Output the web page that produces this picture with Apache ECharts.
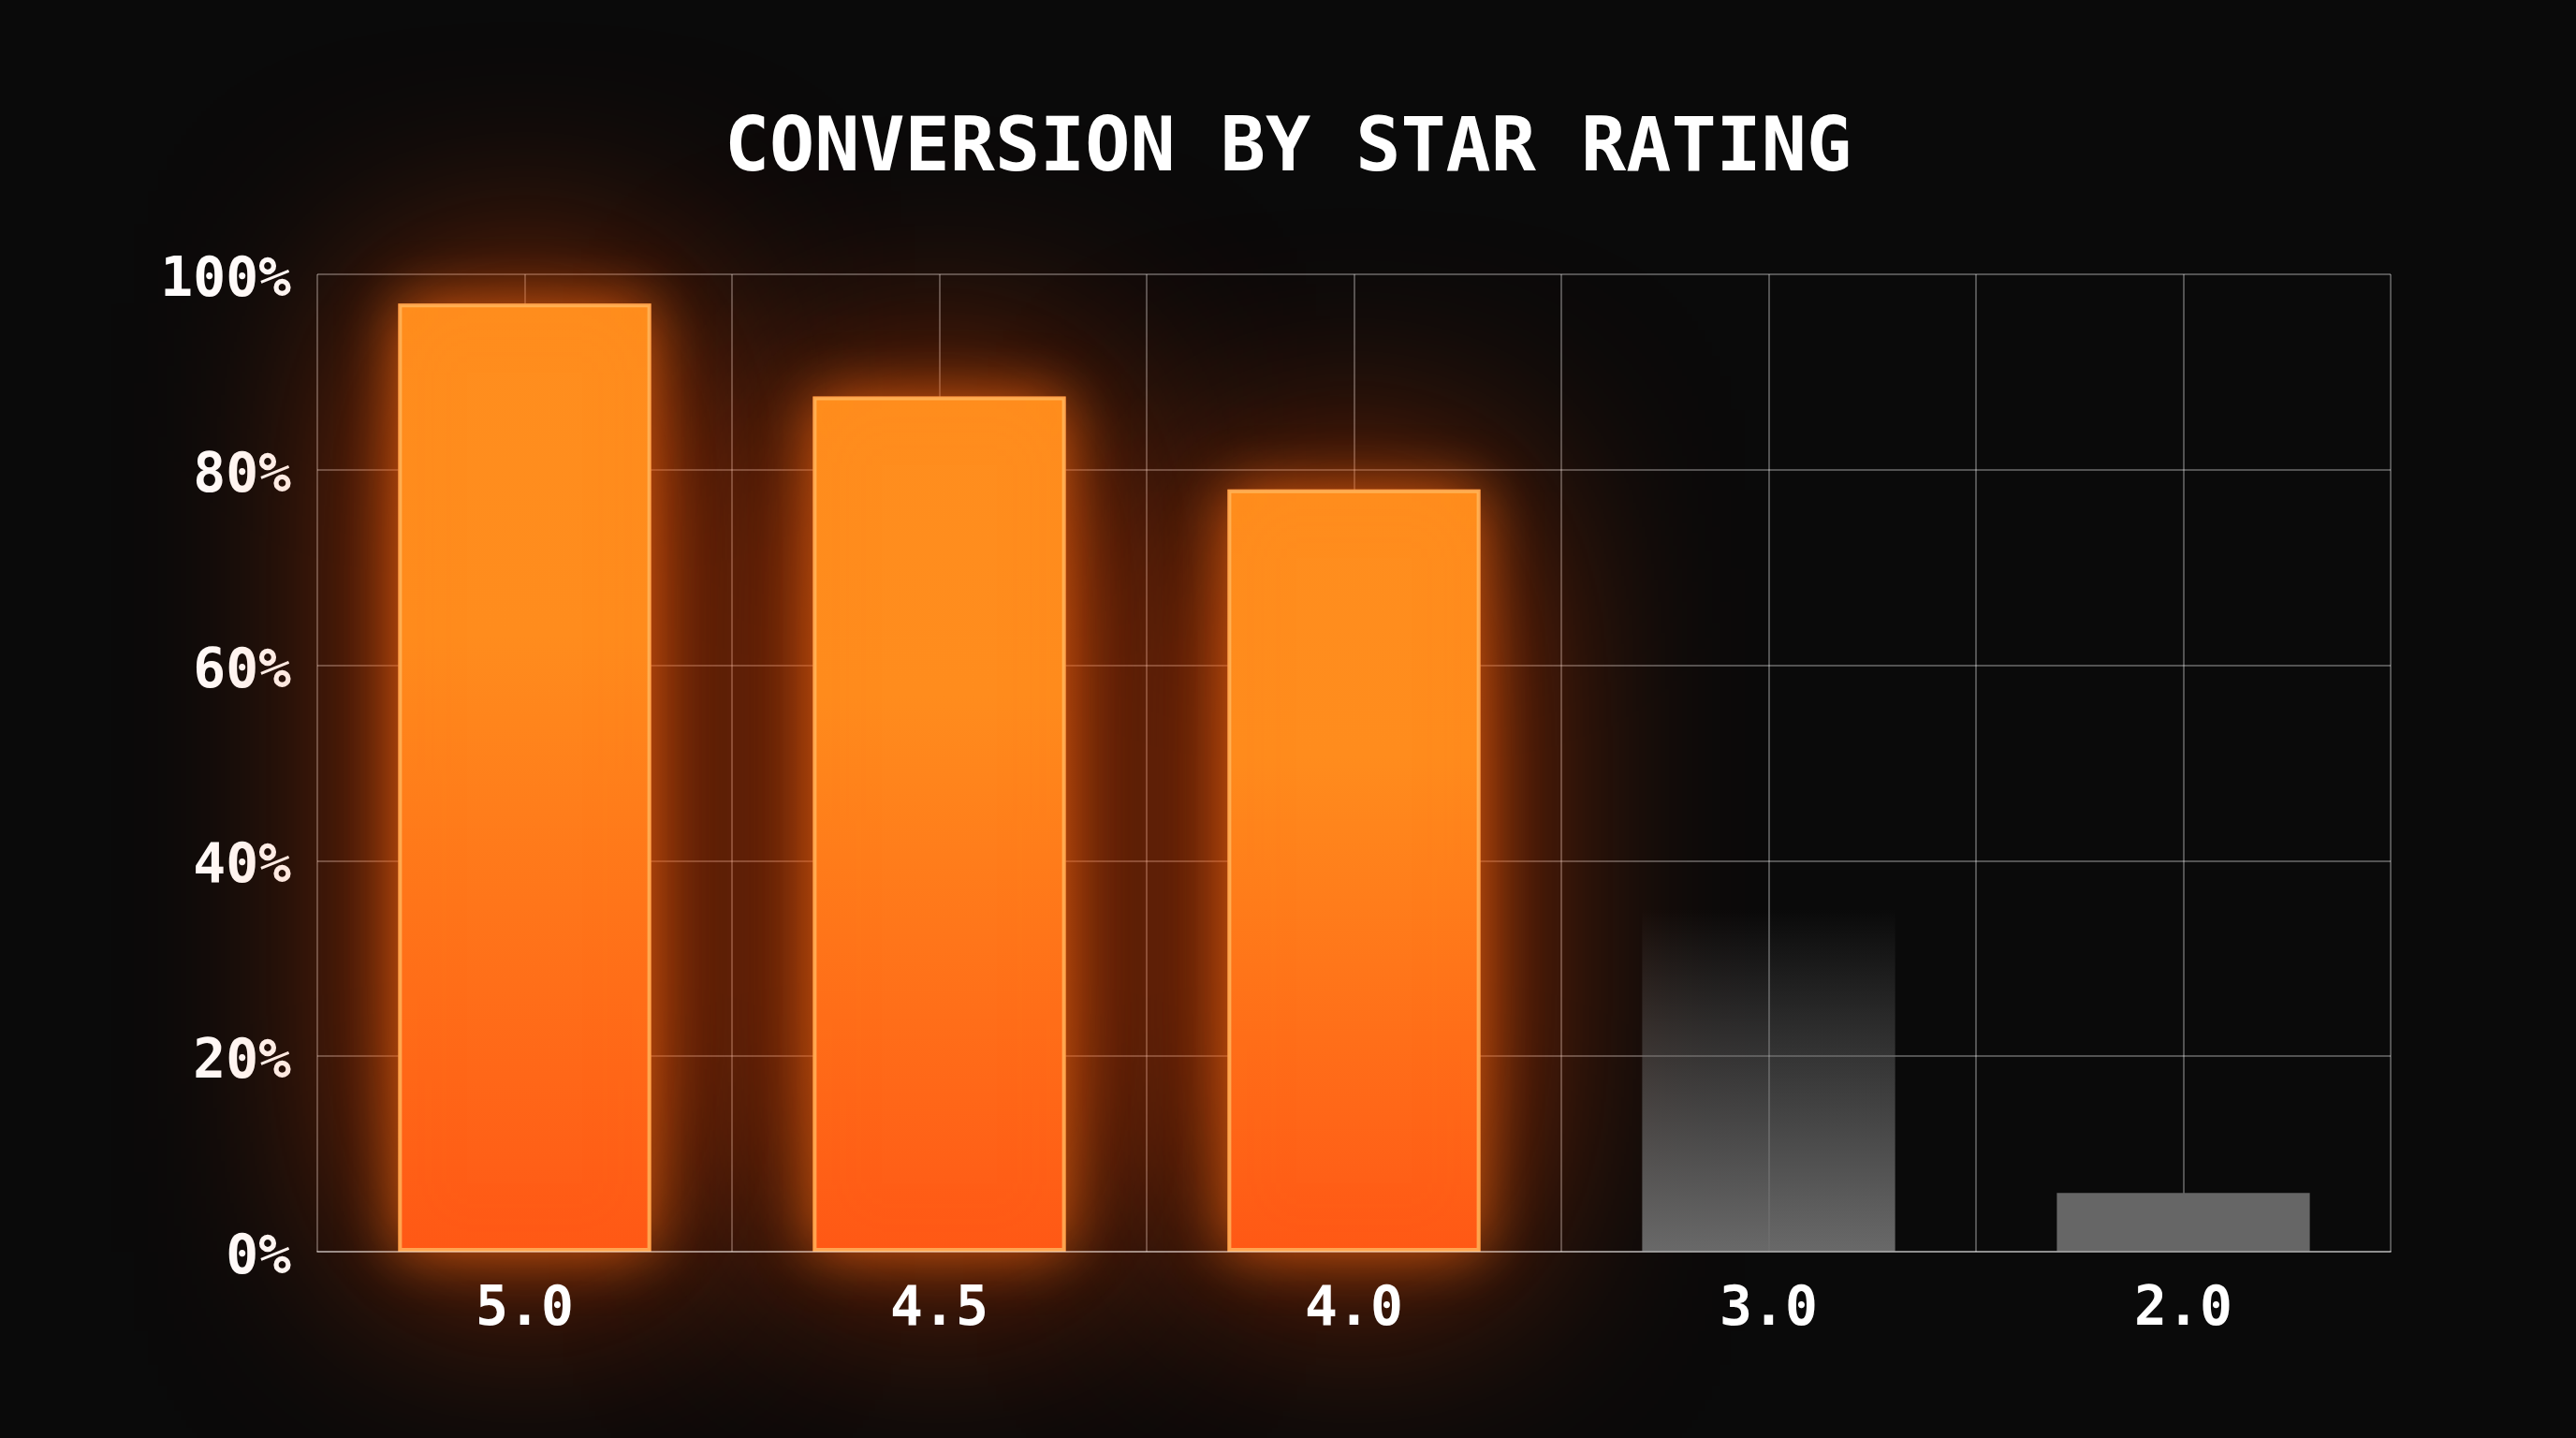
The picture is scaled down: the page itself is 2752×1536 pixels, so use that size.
<!DOCTYPE html>
<html>
<head>
<meta charset="utf-8">
<script src="https://cdn.jsdelivr.net/npm/echarts@6/dist/echarts.min.js"></script>
<style>
html,body{margin:0;padding:0;background:#0a0a0a;}
#c{width:2752px;height:1536px;}
</style>
</head>
<body>
<div id="c"></div>
<script>
const title = 'CONVERSION BY STAR RATING';
const categories = ['5.0', '4.5', '4.0', '3.0', '2.0'];
const conversion = [97, 87.5, 78, 35, 6];
const highlighted = [true, true, true, false, false];

const FONT = '"DejaVu Sans Mono", "Liberation Mono", monospace';

function orangeItem(v) {
  return {
    value: v,
    itemStyle: {
      color: {
        type: 'linear', x: 0, y: 0, x2: 0, y2: 1,
        colorStops: [
          { offset: 0, color: '#ff8e1e' },
          { offset: 0.35, color: '#ff8c1d' },
          { offset: 1, color: '#ff5816' }
        ]
      },
      borderColor: 'rgba(255,190,100,0.75)',
      borderWidth: 4,
      shadowBlur: 60,
      shadowColor: 'rgba(255,110,20,0.75)'
    }
  };
}
function glowItem(v, i) {
  if (!highlighted[i]) return { value: v, itemStyle: { color: 'rgba(0,0,0,0)' } };
  return {
    value: v,
    itemStyle: {
      color: 'rgba(255,90,10,0.9)',
      shadowBlur: 280,
      shadowColor: 'rgba(255,75,0,0.85)'
    }
  };
}
function grayItem(v, idx) {
  if (idx === 3) {
    return {
      value: v,
      itemStyle: {
        color: {
          type: 'linear', x: 0, y: 0, x2: 0, y2: 1,
          colorStops: [
            { offset: 0, color: 'rgba(110,110,110,0)' },
            { offset: 0.35, color: 'rgba(110,110,110,0.35)' },
            { offset: 1, color: 'rgba(110,110,110,0.95)' }
          ]
        }
      }
    };
  }
  return { value: v, itemStyle: { color: '#666666' } };
}

const barData = conversion.map((v, i) => highlighted[i] ? orangeItem(v) : grayItem(v, i));
const glowData = conversion.map((v, i) => glowItem(v, i));

const chart = echarts.init(document.getElementById('c'), null, { renderer: 'canvas' });
chart.setOption({
  backgroundColor: '#0a0a0a',
  animation: false,
  title: {
    text: title,
    left: 'center',
    top: 116,
    textStyle: { color: '#ffffff', fontFamily: FONT, fontWeight: 'bold', fontSize: 80 }
  },
  grid: { left: 339, right: 198, top: 293, bottom: 199, containLabel: false },
  xAxis: [
    {
      type: 'category',
      data: categories,
      axisLine: { show: true, lineStyle: { color: 'rgba(255,255,255,0.35)', width: 2 } },
      axisTick: { show: false },
      splitLine: { show: false },
      axisLabel: { color: '#ffffff', fontFamily: FONT, fontWeight: 'bold', fontSize: 58, margin: 34 },
      z: 10
    },
    {
      type: 'value',
      min: 0, max: 10, interval: 1,
      position: 'bottom',
      axisLine: { show: false },
      axisTick: { show: false },
      axisLabel: { show: false },
      splitLine: { show: true, lineStyle: { color: 'rgba(255,255,255,0.3)', width: 2 } }
    }
  ],
  yAxis: {
    type: 'value',
    min: 0, max: 100, interval: 20,
    axisLine: { show: false },
    axisTick: { show: false },
    axisLabel: {
      margin: 28,
      formatter: v => '{t|' + v + '%}',
      rich: { t: { color: '#ffffff', fontFamily: FONT, fontWeight: 'bold', fontSize: 58, padding: [16, 0, 0, 0] } }
    },
    splitLine: { show: true, lineStyle: { color: 'rgba(255,255,255,0.3)', width: 2 } }
  },
  series: [
    {
      type: 'bar',
      name: 'glow',
      xAxisIndex: 0,
      yAxisIndex: 0,
      barWidth: '61%',
      barGap: '-100%',
      data: glowData,
      z: 1,
      silent: true
    },
    {
      type: 'bar',
      name: 'conversion',
      xAxisIndex: 0,
      yAxisIndex: 0,
      barWidth: '61%',
      barGap: '-100%',
      data: barData,
      z: 3
    }
  ]
});
</script>
</body>
</html>
